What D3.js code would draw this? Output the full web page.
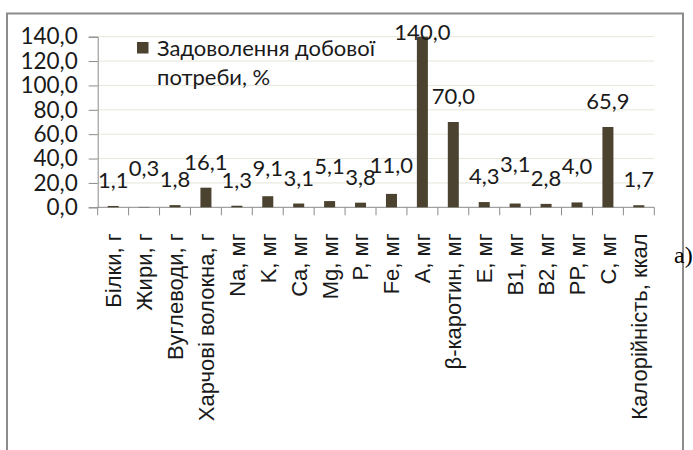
<!DOCTYPE html>
<html>
<head>
<meta charset="utf-8">
<script src="https://cdn.jsdelivr.net/npm/d3@7"></script>
<style>
  body { margin: 0; background: #fff; }
  svg { display: block; }
</style>
</head>
<body>
<svg id="chart" width="693" height="450"></svg>
<script>
// categories along the x axis
var categories = ["Білки, г", "Жири, г", "Вуглеводи, г", "Харчові волокна, г",
  "Na, мг", "K, мг", "Ca, мг", "Mg, мг", "P, мг", "Fe, мг", "A, мг",
  "β-каротин, мг", "E, мг", "B1, мг", "B2, мг", "PP, мг", "C, мг",
  "Калорійність, ккал"];

// satisfaction of daily need, %
var values = [1.1, 0.3, 1.8, 16.1, 1.3, 9.1, 3.1, 5.1, 3.8, 11.0, 140.0,
  70.0, 4.3, 3.1, 2.8, 4.0, 65.9, 1.7];

var yTicks = [0, 20, 40, 60, 80, 100, 120, 140];
var seriesName = ["Задоволення добової", "потреби, %"];

var barColor = "#4b4330";
var textColor = "#1a1a1a";
var numFont = "Lato, 'Open Sans', sans-serif";

var svg = d3.select("#chart");

// outer frame of the chart (bottom goes past the picture)
svg.append("path")
  .attr("d", "M7,470 V13.5 H683 V470")
  .attr("fill", "none")
  .attr("stroke", "#8c8c8c")
  .attr("stroke-width", 2);

// plot area
var plot = {left: 97.7, right: 654.3, top: 36.7, bottom: 207.3};

var x = d3.scaleBand()
  .domain(categories)
  .range([plot.left, plot.right])
  .paddingInner(0.644)
  .paddingOuter(0.322);

var y = d3.scaleLinear()
  .domain([0, 140])
  .range([plot.bottom, plot.top]);

var fmt = function(v) { return d3.format(".1f")(v).replace(".", ","); };

// gridlines
svg.append("g")
  .selectAll("line")
  .data(yTicks.slice(1))
  .enter()
  .append("line")
    .attr("x1", plot.left)
    .attr("x2", plot.right)
    .attr("y1", function(d) { return y(d); })
    .attr("y2", function(d) { return y(d); })
    .attr("stroke", "#e6e6da")
    .attr("stroke-width", 1);

// y axis
var yAxis = svg.append("g")
  .attr("transform", "translate(" + plot.left + ",0)")
  .call(d3.axisLeft(y).tickValues(yTicks).tickFormat(fmt).tickSize(9).tickPadding(11));
yAxis.selectAll("text")
  .attr("font-family", numFont)
  .attr("font-size", 22.5)
  .attr("fill", textColor);
yAxis.selectAll("line, path").attr("stroke", "#8a8a8a");

// x axis: ticks at category boundaries
var step = x.step();
var bounds = categories.map(function(c) { return x(c) - (step - x.bandwidth()) / 2; });
bounds.push(plot.right);
var xg = svg.append("g");
xg.append("line")
  .attr("x1", plot.left).attr("x2", plot.right)
  .attr("y1", plot.bottom).attr("y2", plot.bottom)
  .attr("stroke", "#8a8a8a");
xg.selectAll(".tk")
  .data(bounds)
  .enter()
  .append("line")
    .attr("class", "tk")
    .attr("x1", function(d) { return d; })
    .attr("x2", function(d) { return d; })
    .attr("y1", plot.bottom)
    .attr("y2", plot.bottom + 8)
    .attr("stroke", "#8a8a8a");

xg.selectAll(".cat")
  .data(categories)
  .enter()
  .append("text")
    .attr("class", "cat")
    .attr("transform", function(d) {
      return "translate(" + (x(d) + x.bandwidth() / 2) + "," + (plot.bottom + 26) + ") rotate(-90)";
    })
    .attr("text-anchor", "end")
    .attr("dy", "0.36em")
    .attr("font-family", "'Liberation Sans', Arial, sans-serif")
    .attr("font-size", 22)
    .attr("fill", textColor)
    .text(function(d) { return d; });

// bars
svg.append("g")
  .selectAll("rect")
  .data(values)
  .enter()
  .append("rect")
    .attr("x", function(d, i) { return x(categories[i]); })
    .attr("y", function(d) { return y(d); })
    .attr("width", x.bandwidth())
    .attr("height", function(d) { return plot.bottom - y(d); })
    .attr("fill", barColor);

// data labels above bars, kept inside the plot
var labels = svg.append("g")
  .selectAll("text")
  .data(values)
  .enter()
  .append("text")
    .attr("x", function(d, i) { return x(categories[i]) + x.bandwidth() / 2; })
    .attr("y", function(d) { return Math.max(y(d) - 18, plot.top + 3); })
    .attr("text-anchor", "middle")
    .attr("font-family", numFont)
    .attr("font-size", 22)
    .attr("fill", textColor)
    .text(fmt);

// stagger labels that run into their left neighbour
var prev = null;
labels.each(function(d, i) {
  var node = this;
  var w = node.getComputedTextLength();
  var cx = +node.getAttribute("x");
  var ly = +node.getAttribute("y");
  var lifted = false;
  if (prev && !prev.lifted && cx - w / 2 < prev.right + 1 && Math.abs(ly - prev.y) < 14) {
    ly = Math.min(ly, prev.y - 12);
    lifted = true;
    node.setAttribute("y", ly);
  }
  prev = {right: cx + w / 2, y: ly, lifted: lifted};
});

// legend
var lg = svg.append("g");
lg.append("rect")
  .attr("x", 137).attr("y", 42)
  .attr("width", 11.5).attr("height", 11.5)
  .attr("fill", barColor);
lg.selectAll("text")
  .data(seriesName)
  .enter()
  .append("text")
    .attr("x", 157)
    .attr("y", function(d, i) { return 56 + i * 28.5; })
    .attr("font-family", numFont)
    .attr("font-size", 22)
    .attr("fill", textColor)
    .text(function(d) { return d; });

// panel mark
svg.append("text")
  .attr("x", 674)
  .attr("y", 263)
  .attr("font-family", "'Liberation Serif', 'Times New Roman', serif")
  .attr("font-size", 24)
  .attr("fill", "#000")
  .text("a)");
</script>
</body>
</html>
